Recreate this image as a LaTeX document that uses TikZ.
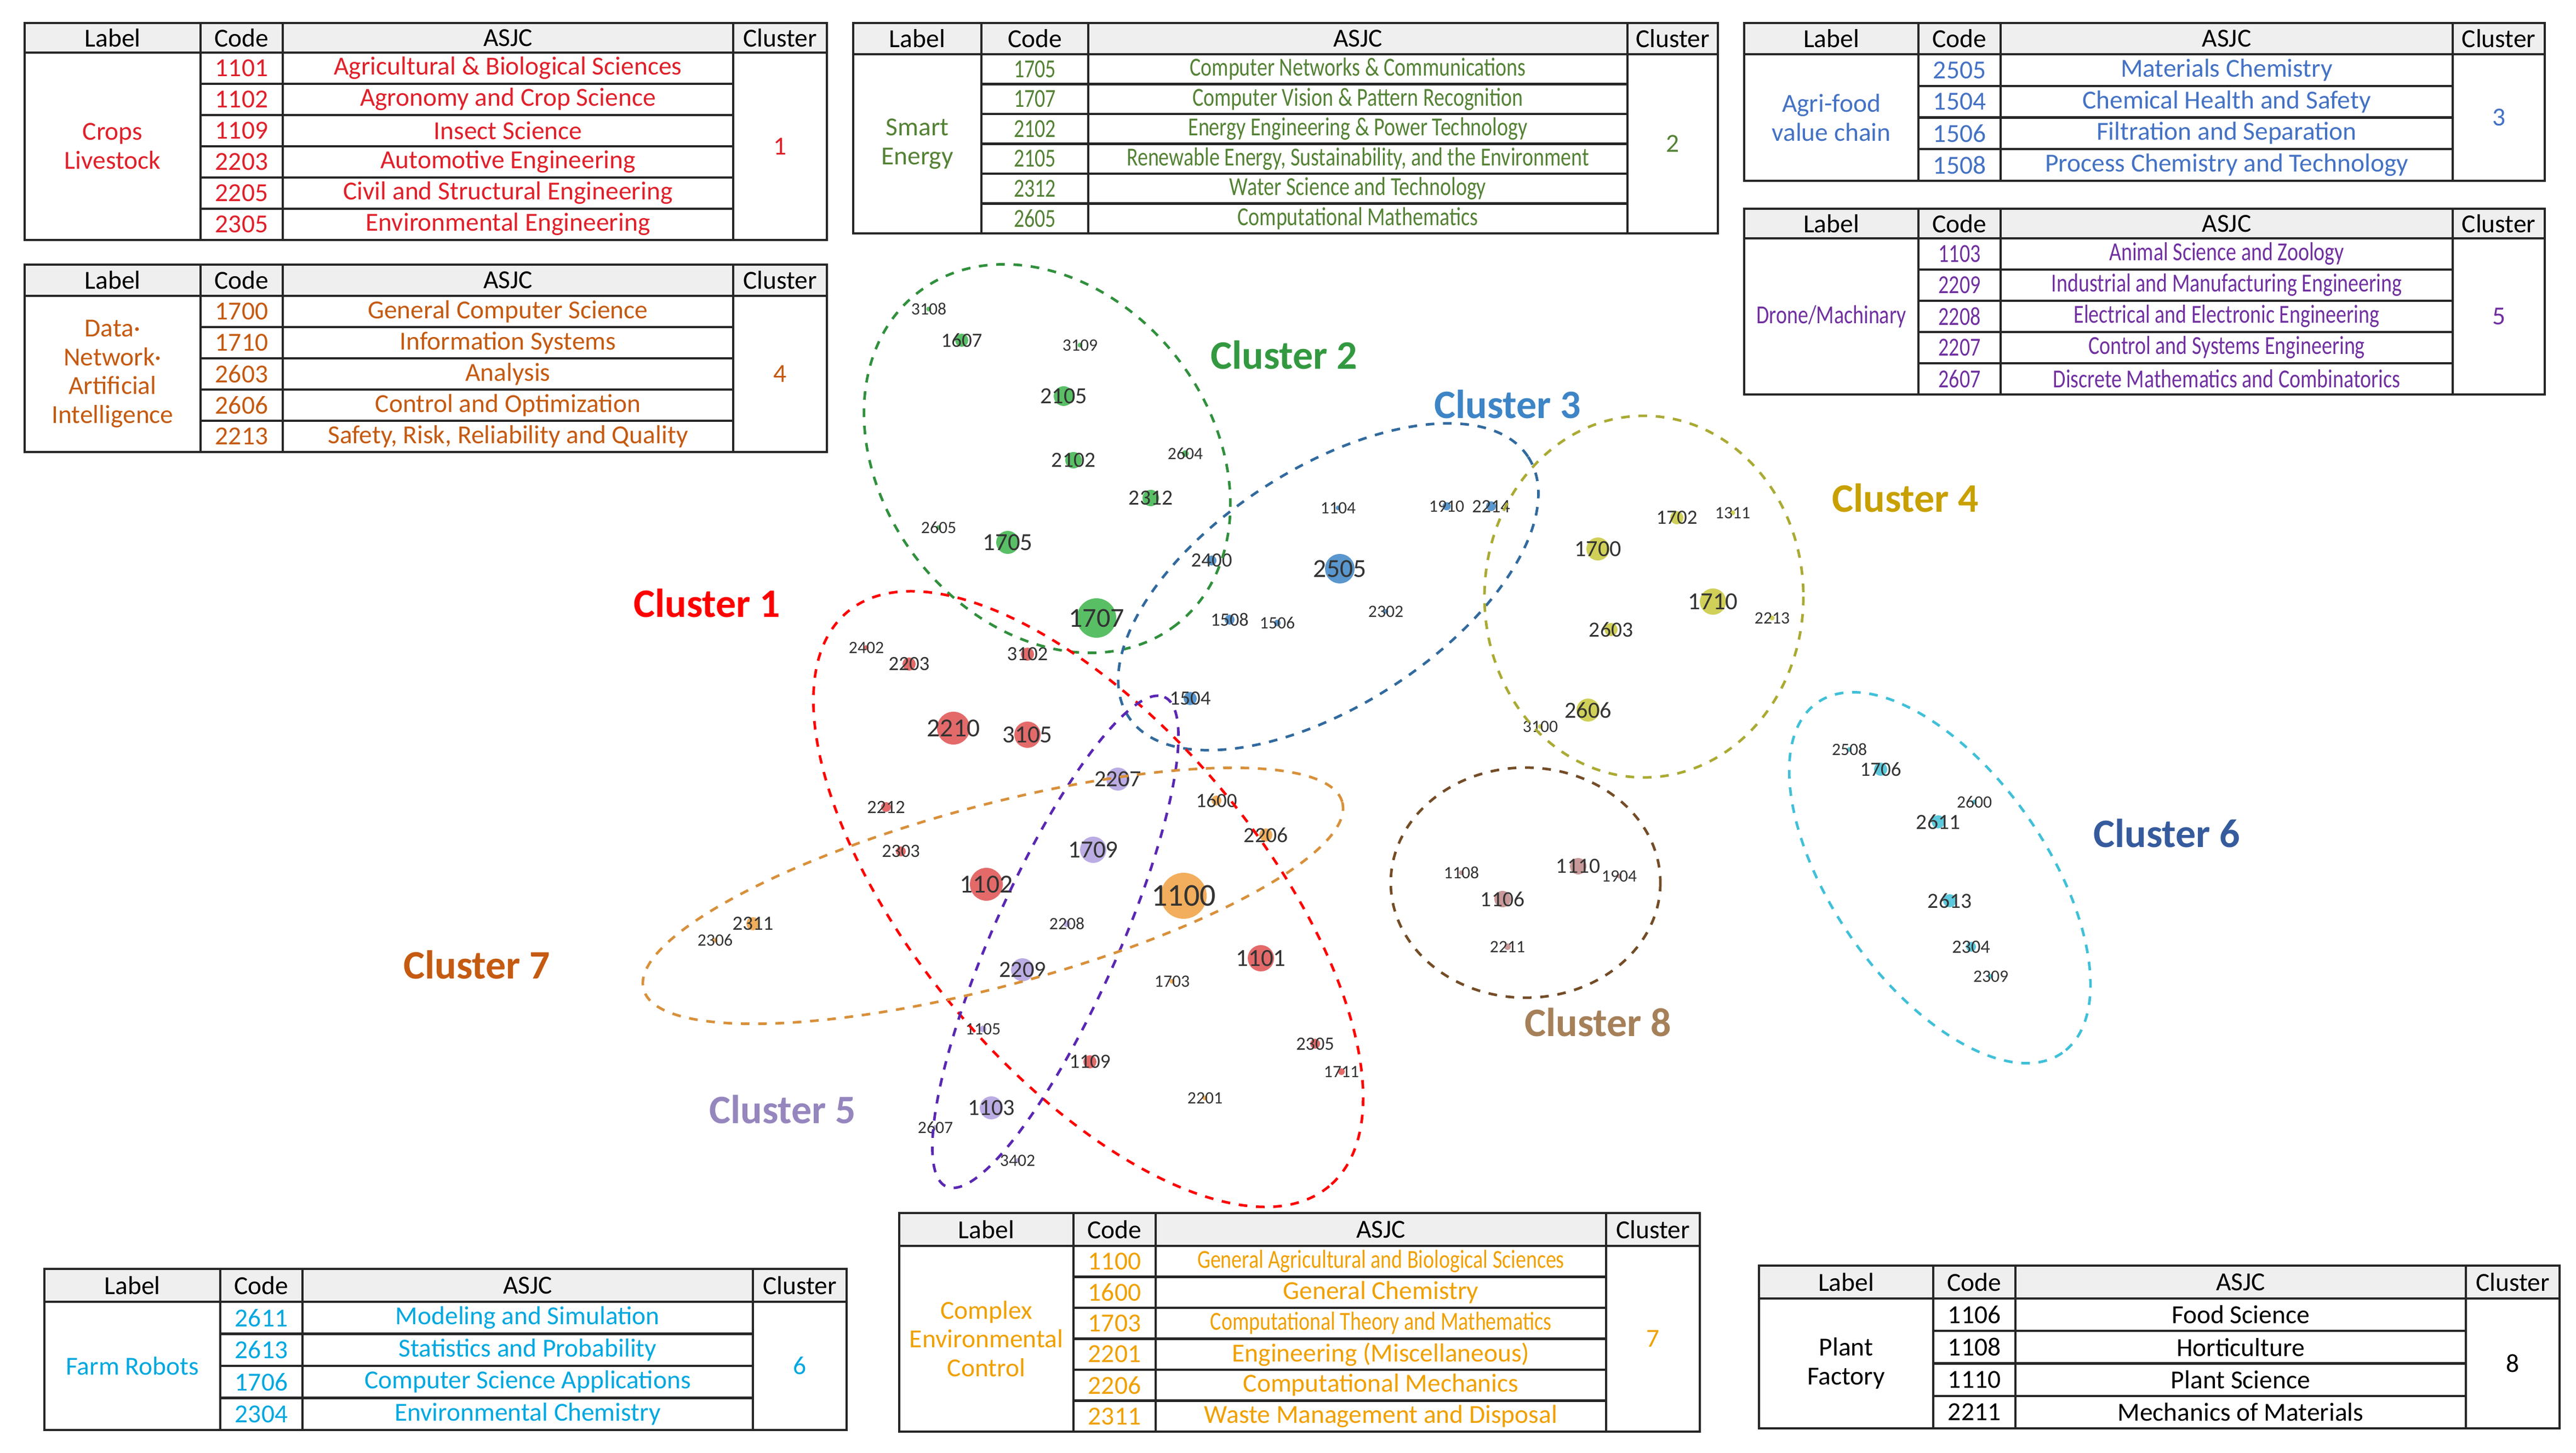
\documentclass[tikz,border=0pt]{standalone}
\usepackage{fontspec}
\usepackage{graphicx}
\setmainfont{Carlito}
\usetikzlibrary{backgrounds}
\definecolor{cR}{HTML}{E0202A}
\definecolor{cO4}{HTML}{C55A11}
\definecolor{cG}{HTML}{548235}
\definecolor{cB}{HTML}{4472C4}
\definecolor{cP}{HTML}{7030A0}
\definecolor{cC}{HTML}{00A8E0}
\definecolor{cO7}{HTML}{F0A000}
\definecolor{nG}{HTML}{3CB44B}
\definecolor{nB}{HTML}{3D85C6}
\definecolor{nY}{HTML}{C8C83C}
\definecolor{nR}{HTML}{E05050}
\definecolor{nP}{HTML}{B09EE0}
\definecolor{nO}{HTML}{F0A040}
\definecolor{nBr}{HTML}{C08888}
\definecolor{nC}{HTML}{40C0D8}
\definecolor{olv}{HTML}{C8A000}
\definecolor{headgray}{HTML}{EFEFEF}
\tikzset{
 tline/.style={line width=0.8pt,black!85},
 tt/.style={font=\fontsize{9}{10}\selectfont},
 ed/.style={line width=0.7pt,opacity=0.35},
 thk/.style={line width=3pt,opacity=0.45},
 cl/.style={dashed,line width=0.9pt},
 ctitle/.style={font=\fontsize{14}{16}\selectfont\bfseries},
}
\newcommand\TBL[9]{%
 \def\tx{#1}\def\ta{#2}\def\tb{#3}\def\tc{#4}\def\td{#5}\def\tya{#6}\def\tyh{#7}\def\tyb{#8}\def\tn{#9}%
 \fill[headgray] (#1,#6) rectangle (#5,#7);
 \draw[tline] (#1,#6) rectangle (#5,#8);
 \draw[tline] (#1,#7)--(#5,#7);
 \draw[tline] (#2,#6)--(#2,#8) (#3,#6)--(#3,#8) (#4,#6)--(#4,#8);
 \node[tt] at ({(#1+#2)/2},{(#6+#7)/2}) {Label};
 \node[tt] at ({(#2+#3)/2},{(#6+#7)/2}) {Code};
 \node[tt] at ({(#3+#4)/2},{(#6+#7)/2}) {ASJC};
 \node[tt] at ({(#4+#5)/2},{(#6+#7)/2}) {Cluster};
}
\newcommand\TR[4]{%
 \pgfmathsetmacro\rhh{(\tyb-\tyh)/\tn}%
 \pgfmathsetmacro\rtop{\tyh+(#1-1)*\rhh}%
 \pgfmathsetmacro\rmid{\rtop+\rhh/2}%
 \ifnum#1>1 \draw[tline] (\ta,\rtop)--(\tc,\rtop);\fi
 \node[tt,text=#4] at ({(\ta+\tb)/2},\rmid) {#2};
 \node[tt,text=#4] at ({(\tb+\tc)/2},\rmid) {#3};
}
\newcommand\TL[3]{%
 \node[tt,text=#1,align=center] at ({(\tx+\ta)/2},{(\tyh+\tyb)/2}) {#2};
 \node[tt,text=#1] at ({(\tc+\td)/2},{(\tyh+\tyb)/2}) {#3};
}
\newcommand\NN[6]{%
 \node[circle,fill=#4,fill opacity=0.85,inner sep=0pt,minimum size=#5*0.04cm,
   label={[font=\fontsize{#6}{#6}\selectfont,text=black!80,inner sep=0pt]center:#1}] (n#1) at (#2,#3) {};
}
\newcommand\SX[1]{\scalebox{0.8}[1]{#1}}
\begin{document}
\begin{tikzpicture}[x=0.02cm,y=-0.02cm]
\useasboundingbox (0,0) rectangle (1567,884);
\fill[white] (0,0) rectangle (1567,884);

\TBL{15}{122}{172}{446}{503}{14}{32}{146}{6}
\TL{cR}{Crops\\Livestock}{1}
\TR{1}{1101}{Agricultural \& Biological Sciences}{cR}
\TR{2}{1102}{Agronomy and Crop Science}{cR}
\TR{3}{1109}{Insect Science}{cR}
\TR{4}{2203}{Automotive Engineering}{cR}
\TR{5}{2205}{Civil and Structural Engineering}{cR}
\TR{6}{2305}{Environmental Engineering}{cR}

\TBL{15}{122}{172}{446}{503}{161}{180}{275}{5}
\TL{cO4}{Data·\\Network·\\Artificial\\Intelligence}{4}
\TR{1}{1700}{General Computer Science}{cO4}
\TR{2}{1710}{Information Systems}{cO4}
\TR{3}{2603}{Analysis}{cO4}
\TR{4}{2606}{Control and Optimization}{cO4}
\TR{5}{2213}{Safety, Risk, Reliability and Quality}{cO4}

\TBL{519}{597}{662}{990}{1045}{14}{33}{142}{6}
\TL{cG}{Smart\\Energy}{2}
\TR{1}{\SX{1705}}{\SX{Computer Networks \& Communications}}{cG}
\TR{2}{\SX{1707}}{\SX{Computer Vision \& Pattern Recognition}}{cG}
\TR{3}{\SX{2102}}{\SX{Energy Engineering \& Power Technology}}{cG}
\TR{4}{\SX{2105}}{\SX{Renewable Energy, Sustainability, and the Environment}}{cG}
\TR{5}{\SX{2312}}{\SX{Water Science and Technology}}{cG}
\TR{6}{\SX{2605}}{\SX{Computational Mathematics}}{cG}

\TBL{1061}{1167}{1217}{1492}{1548}{14}{33}{110}{4}
\TL{cB}{Agri-food\\value chain}{3}
\TR{1}{2505}{Materials Chemistry}{cB}
\TR{2}{1504}{Chemical Health and Safety}{cB}
\TR{3}{1506}{Filtration and Separation}{cB}
\TR{4}{1508}{Process Chemistry and Technology}{cB}

\TBL{1061}{1167}{1217}{1492}{1548}{127}{145}{240}{5}
\TL{cP}{\SX{Drone/Machinary}}{5}
\TR{1}{\SX{1103}}{\SX{Animal Science and Zoology}}{cP}
\TR{2}{\SX{2209}}{\SX{Industrial and Manufacturing Engineering}}{cP}
\TR{3}{\SX{2208}}{\SX{Electrical and Electronic Engineering}}{cP}
\TR{4}{\SX{2207}}{\SX{Control and Systems Engineering}}{cP}
\TR{5}{\SX{2607}}{\SX{Discrete Mathematics and Combinatorics}}{cP}

\TBL{27}{134}{184}{458}{515}{772}{792}{870}{4}
\TL{cC}{Farm Robots}{6}
\TR{1}{2611}{Modeling and Simulation}{cC}
\TR{2}{2613}{Statistics and Probability}{cC}
\TR{3}{1706}{Computer Science Applications}{cC}
\TR{4}{2304}{Environmental Chemistry}{cC}

\TBL{547}{653}{703}{977}{1034}{738}{758}{871}{6}
\TL{cO7}{Complex\\Environmental\\Control}{7}
\TR{1}{1100}{\SX{General Agricultural and Biological Sciences}}{cO7}
\TR{2}{1600}{General Chemistry}{cO7}
\TR{3}{1703}{\SX{Computational Theory and Mathematics}}{cO7}
\TR{4}{2201}{Engineering (Miscellaneous)}{cO7}
\TR{5}{2206}{Computational Mechanics}{cO7}
\TR{6}{2311}{Waste Management and Disposal}{cO7}

\TBL{1070}{1176}{1226}{1500}{1557}{770}{790}{869}{4}
\TL{black}{Plant\\Factory}{8}
\TR{1}{1106}{Food Science}{black}
\TR{2}{1108}{Horticulture}{black}
\TR{3}{1110}{Plant Science}{black}
\TR{4}{2211}{Mechanics of Materials}{black}

% cluster 2
\NN{3108}{565}{188}{nG}{1.5}{6}
\NN{1607}{585}{207}{nG}{4}{7}
\NN{3109}{657}{210}{nG}{1.5}{6}
\NN{2105}{647}{241}{nG}{6}{8}
\NN{2102}{653}{280}{nG}{5}{7.5}
\NN{2604}{721}{276}{nG}{2}{6}
\NN{2312}{700}{303}{nG}{5}{7.5}
\NN{2605}{571}{321}{nG}{1.5}{6}
\NN{1705}{613}{330}{nG}{7}{8.5}
\NN{1707}{667}{376}{nG}{12}{9.5}
% cluster 3
\NN{1104}{814}{309}{nB}{1.5}{6}
\NN{1910}{880}{308}{nB}{2.5}{6}
\NN{2214}{907}{308}{nB}{3}{6.5}
\NN{2400}{737}{341}{nB}{3}{7}
\NN{2505}{815}{346}{nB}{9}{9}
\NN{2302}{843}{372}{nB}{1.5}{6}
\NN{1508}{748}{377}{nB}{3}{6.5}
\NN{1506}{777}{379}{nB}{2}{6}
\NN{1504}{724}{425}{nB}{4}{7}
% cluster 4
\NN{1702}{1020}{315}{nY}{4}{7}
\NN{1311}{1054}{312}{nY}{1.5}{6}
\NN{1700}{972}{334}{nY}{7}{8}
\NN{1710}{1042}{366}{nY}{8}{8.5}
\NN{2213}{1078}{376}{nY}{1.5}{6}
\NN{2603}{980}{383}{nY}{4}{7.5}
\NN{2606}{966}{432}{nY}{7}{8}
\NN{3100}{937}{442}{nY}{1.5}{6}
% cluster 1
\NN{2402}{527}{394}{nR}{1.5}{6}
\NN{2203}{553}{404}{nR}{4}{7}
\NN{3102}{625}{398}{nR}{4}{7}
\NN{2210}{580}{443}{nR}{10}{9}
\NN{3105}{625}{447}{nR}{8}{8.5}
\NN{2212}{539}{491}{nR}{3}{6.5}
\NN{2303}{548}{518}{nR}{3}{6.5}
\NN{1102}{600}{538}{nR}{10}{9}
\NN{1101}{767}{583}{nR}{8}{8.5}
\NN{2305}{800}{635}{nR}{3}{6.5}
\NN{1711}{816}{652}{nR}{2}{6}
\NN{1109}{663}{646}{nR}{4}{7}
% cluster 5
\NN{2207}{680}{474}{nP}{7}{8}
\NN{1709}{665}{517}{nP}{8}{8.5}
\NN{2208}{649}{562}{nP}{2}{6}
\NN{2209}{622}{590}{nP}{7}{8}
\NN{1105}{598}{626}{nP}{2}{6}
\NN{1103}{603}{674}{nP}{7}{8}
\NN{2607}{569}{686}{nP}{1.5}{6}
\NN{3402}{619}{706}{nP}{1.5}{6}
% cluster 7
\NN{1600}{740}{487}{nO}{3}{7}
\NN{2206}{770}{508}{nO}{4}{7.5}
\NN{1100}{720}{545}{nO}{14}{11}
\NN{2311}{458}{562}{nO}{4}{7}
\NN{2306}{435}{572}{nO}{1.5}{6}
\NN{1703}{713}{597}{nO}{1.5}{6}
\NN{2201}{733}{668}{nO}{1.5}{6}
% cluster 8
\NN{1108}{889}{531}{nBr}{1.5}{6}
\NN{1106}{914}{547}{nBr}{5}{7.5}
\NN{1110}{960}{527}{nBr}{5}{7.5}
\NN{1904}{985}{533}{nBr}{1.5}{6}
\NN{2211}{917}{576}{nBr}{2}{6}
% cluster 6
\NN{2508}{1125}{456}{nC}{1.5}{6}
\NN{1706}{1144}{468}{nC}{4}{7}
\NN{2600}{1201}{488}{nC}{1.5}{6}
\NN{2611}{1179}{500}{nC}{4}{7.5}
\NN{2613}{1186}{548}{nC}{4}{7.5}
\NN{2304}{1199}{576}{nC}{3}{6.5}
\NN{2309}{1211}{594}{nC}{1.5}{6}

\begin{scope}[on background layer]
\draw[thk,nG] (n1705) to[bend right=15] (n1707);
\draw[thk,nR!70] (n2210) to[bend left=15] (n3105);
\draw[thk,nR!60] (n1102) to[bend left=15] (n1709);
\draw[thk,nO] (n1709) to[bend left=10] (n1100);
\draw[thk,nO] (n1100) to[bend left=10] (n1101);
\draw[thk,nY] (n2606) to[bend right=15] (n1710);
\foreach \a/\b/\c/\bb in {3108/1607/nG/0,1607/2312/nG/-10,3109/2105/nG/0,2105/2102/nG/0,2105/1705/nG/0,
  2102/1707/nG/5,2102/2312/nG/10,2604/2312/nG/0,2312/1707/nG/0,2605/1705/nG/10,2605/2210/nG/0,
  1705/2210/nG/0,1607/1707/nG/-5,2312/1504/nG/-10,2105/1504/nG/-5,2505/2400/nB/10,2505/1104/nB/0,
  2505/1910/nB/20,2505/2214/nB/10,2505/2302/nB/0,2505/1508/nB/5,2505/1506/nB/0,1508/1504/nB/0,
  2400/1707/nB/0,2505/1707/nB/0,2505/1700/gray/-10,2505/1101/gray/-10,1504/1100/nB/0,2214/1700/gray/5,
  1700/1702/nY/10,1700/1710/nY/-10,1702/1710/nY/0,1311/1710/nY/-10,1710/2213/nY/0,1700/2606/nY/-20,
  2603/1710/nY/-10,2603/2606/nY/0,2606/3100/nY/0,2213/1706/gray/-10,1700/1707/nY/10,2603/1504/nY/10,
  2606/1100/nY/10,2402/2203/nR/0,2203/2210/nR/0,3102/2210/nR/0,3102/3105/nR/0,3102/1707/nR/0,
  2210/2212/nR/5,2212/2303/nR/0,2303/1102/nR/20,1102/1100/nR/10,1102/1109/nR/0,3105/1100/nR/0,
  2210/1100/nR/0,1101/2305/nR/10,2305/1711/nR/0,1101/1102/nR/-10,2305/1100/nR/0,1109/1100/nR/0,
  1109/1103/nR/0,2207/1709/nP/-10,2207/1100/nP/0,1709/2209/nP/0,2209/2208/nP/0,2209/1103/nP/10,
  1105/1103/nP/0,1103/2607/nP/0,1103/3402/nP/0,2209/1100/nP/0,2207/1504/nP/0,2209/1102/nP/0,
  1100/1600/nO/0,1100/2206/nO/-10,1100/1703/nO/0,1100/2201/nO/5,2311/2209/nO/20,2311/1100/nO/10,
  2306/2311/nO/0,2311/2210/nO/-10,1703/1109/nO/0,1703/1101/nO/0,1106/1108/nBr/0,1106/1110/nBr/10,
  1106/2211/nBr/0,1110/1904/nBr/0,1110/2606/nBr/10,1106/1100/gray/5,1706/2611/nC/0,2611/2613/nC/10,
  2613/2304/nC/0,2304/2309/nC/0,2611/2600/nC/0,1706/2508/nC/0,2611/1106/nC/-10,2613/1101/gray/-15,
  2611/1100/gray/-10,2207/1707/nG/0,1709/1707/nG/0,2206/1707/gray/5,3105/1504/gray/0}
  {\draw[ed,\c] (n\a.center) to[bend left=\bb] (n\b.center);}
\end{scope}

\draw[cl,nG!80!black] (637,279) ellipse [x radius=128,y radius=100,rotate=-52];
\draw[cl,nB!80!black] (808,357) ellipse [x radius=145,y radius=72,rotate=33];
\draw[cl,nY!85!black] (1000,363) ellipse [x radius=97,y radius=110];
\draw[cl,red] (662,547) ellipse [x radius=228,y radius=105,rotate=-50];
\draw[cl,cP!80!blue] (642,573) ellipse [x radius=163,y radius=38,rotate=66];
\draw[cl,nO!90!black] (604,545) ellipse [x radius=220,y radius=55,rotate=15];
\draw[cl,brown!60!black] (928,537) ellipse [x radius=82,y radius=70];
\draw[cl,nC] (1180,534) ellipse [x radius=130,y radius=65,rotate=-55];

\node[ctitle,text=red] (t1) at (430,367) {Cluster 1};
\node[ctitle,text=nG!85!black] (t2) at (781,216) {Cluster 2};
\node[ctitle,text=nB] (t3) at (917,246) {Cluster 3};
\node[ctitle,text=olv] (t4) at (1159,303) {Cluster 4};
\node[ctitle,text=nP!85!black] (t5) at (476,675) {Cluster 5};
\node[ctitle,text=cB!80!black] (t6) at (1318,507) {Cluster 6};
\node[ctitle,text=cO4] (t7) at (290,587) {Cluster 7};
\node[ctitle,text=brown!60!gray] (t8) at (972,622) {Cluster 8};
\end{tikzpicture}
\end{document}
